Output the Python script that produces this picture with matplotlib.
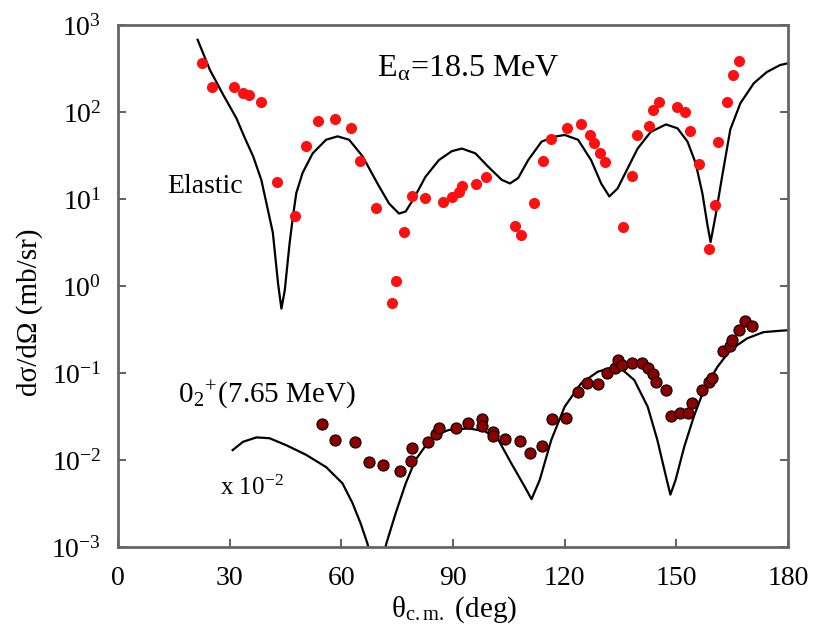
import numpy as np
import matplotlib
matplotlib.use("Agg")
import matplotlib.pyplot as plt

plt.rcParams['font.family'] = ['Liberation Serif', 'DejaVu Serif']
plt.rcParams['mathtext.fontset'] = 'stix'

# elastic scattering, experiment
el_theta = [22.5, 25.2, 31.2, 33.6, 35.2, 38.5, 42.7, 47.6, 50.4, 53.6, 58.4, 62.6,
            65.1, 69.4, 73.7, 74.8, 76.8, 79.0, 82.6, 87.3, 89.8, 91.5, 92.3, 96.1,
            98.8, 106.7, 108.4, 111.8, 114.2, 116.4, 120.7, 124.3, 126.9, 128.0,
            129.4, 130.7, 135.6, 138.1, 139.4, 142.7, 143.6, 145.4, 150.1, 152.2,
            153.8, 156.2, 158.8, 160.4, 161.2, 163.6, 165.2, 166.8]
el_xs = [363, 195, 195, 165, 155, 131, 15.5, 6.4, 41, 79, 83, 65,
         27, 7.8, 0.63, 1.14, 4.2, 10.8, 10.4, 9.2, 10.5, 12.0, 14.0, 14.7,
         18, 4.9, 3.86, 9.1, 27, 49, 65, 72, 54, 44,
         34, 26.4, 4.8, 18.5, 54, 69, 106, 131, 115, 99,
         61, 25, 2.64, 8.6, 45, 131, 266, 385]

# elastic scattering, calculation
el_calc_theta = [21.4, 24.7, 28.3, 31.8, 34.1, 36.3, 38.5, 40.3, 41.6, 43.0, 43.9,
                 44.8, 46.1, 47.0, 47.9, 49.6, 52.3, 55.9, 59.0, 62.1, 65.7, 69.7,
                 72.8, 75.5, 77.3, 79.5, 82.6, 86.2, 89.7, 92.4, 96.0, 99.5, 103.1,
                 105.3, 107.5, 110.2, 113.8, 117.3, 120.0, 123.6, 127.1, 129.8, 132.0,
                 134.2, 136.9, 139.6, 143.1, 147.2, 150.3, 153.0, 155.2, 157.0, 158.3,
                 159.2, 160.5, 162.3, 164.5, 167.2, 170.8, 174.3, 177.9, 180.0]
el_calc_xs = [676, 304, 157, 85, 50, 31, 16.6, 7.4, 4.1, 1.07, 0.55,
              0.89, 3.1, 6.3, 11.7, 20, 33.5, 48, 52.5, 48, 31, 15.1,
              8.9, 6.8, 7.2, 10.2, 18, 28, 35.5, 38, 33.5, 23.4, 16.6,
              15.1, 17.4, 28, 45.7, 52, 54.5, 48, 28, 15.1, 10.7,
              13.2, 22.4, 38, 59, 72, 65, 45.7, 25.7, 11.6, 5.2,
              3.2, 6.3, 18.2, 63, 126, 214, 288, 347, 363]

# 0+2 (7.65 MeV) state, experiment (x 10^-2)
hs_theta = [54.8, 58.4, 63.7, 67.5, 71.2, 75.7, 79.0, 78.8, 83.3, 85.5, 86.2, 90.8,
            94.0, 97.7, 97.7, 100.7, 100.7, 104.0, 108.0, 110.8, 113.8, 116.6, 120.4,
            123.6, 126.1, 128.9, 131.4, 133.4, 134.2, 135.3, 138.0, 140.9, 142.3,
            143.6, 144.5, 147.2, 148.5, 151.0, 153.0, 154.3, 157.0, 158.8, 159.6,
            162.6, 164.3, 165.0, 166.8, 168.5, 170.3]
hs_xs = [0.026, 0.017, 0.0163, 0.0096, 0.0088, 0.0075, 0.0136, 0.0098, 0.016, 0.020,
         0.0236, 0.0236, 0.0269, 0.0293, 0.0246, 0.021, 0.0187, 0.0174, 0.0166, 0.0121,
         0.0145, 0.0293, 0.0308, 0.061, 0.077, 0.074, 0.100, 0.113, 0.141, 0.124,
         0.129, 0.129, 0.113, 0.0975, 0.079, 0.063, 0.032, 0.035, 0.035, 0.045,
         0.064, 0.079, 0.087, 0.18, 0.204, 0.24, 0.31, 0.40, 0.345]

# 0+2 state, calculation
hs_calc_theta = [30.8, 33.6, 37.2, 40.7, 45.2, 50.5, 55.9, 60.3, 63.0, 65.2, 67.0,
                 69.6, 72.1, 74.6, 77.3, 79.9, 84.4, 88.8, 94.2, 98.6, 102.2, 105.7,
                 109.3, 111.1, 113.3, 116.4, 120.0, 124.4, 128.9, 132.5, 135.1, 138.7,
                 142.3, 144.9, 147.2, 148.4, 149.8, 152.1, 154.7, 157.4, 161.0, 164.5,
                 169.0, 173.4, 177.9, 180.0]
hs_calc_xs = [0.0130, 0.0162, 0.0182, 0.0178, 0.0148, 0.0115, 0.0083, 0.0054, 0.0032,
              0.00186, 0.0011, 0.0004, 0.0011, 0.00245, 0.0054, 0.010, 0.0186, 0.0221,
              0.0231, 0.0214, 0.017, 0.0091, 0.0049, 0.00355, 0.0059, 0.017, 0.041,
              0.076, 0.1035, 0.115, 0.113, 0.083, 0.041, 0.017, 0.0065, 0.0040, 0.0059,
              0.0141, 0.0316, 0.064, 0.117, 0.184, 0.25, 0.295, 0.306, 0.31]

ytick_vals = [1e-3, 1e-2, 1e-1, 1e0, 1e1, 1e2, 1e3]
ytick_labels = [r'$\mathregular{10^{-3}}$', r'$\mathregular{10^{-2}}$', r'$\mathregular{10^{-1}}$',
                r'$\mathregular{10^{0}}$', r'$\mathregular{10^{1}}$', r'$\mathregular{10^{2}}$',
                r'$\mathregular{10^{3}}$']
xtick_vals = [0, 30, 60, 90, 120, 150, 180]

fig = plt.figure(figsize=(8.16, 6.38), dpi=100)
ax = fig.add_axes([0.1446, 0.1426, 0.8211, 0.8182])

ax.plot(el_calc_theta, el_calc_xs, color='black', lw=1.6, zorder=2)
ax.plot(hs_calc_theta, hs_calc_xs, color='black', lw=1.6, zorder=2)
ax.plot(el_theta, el_xs, 'o', color='#ff1010', ms=8, mew=0, zorder=3)
ax.plot(hs_theta, hs_xs, 'o', color='#8e0000', mec='black', mew=0.8, ms=8, zorder=3)

ax.set_yscale('log')
ax.set_xlim(0, 180)
ax.set_ylim(1e-3, 1e3)
ax.set_xticks(xtick_vals)
ax.set_yticks(ytick_vals)
ax.set_yticklabels(ytick_labels)
ax.yaxis.set_minor_locator(matplotlib.ticker.NullLocator())
ax.tick_params(axis='both', direction='in', length=6, width=1.3, labelsize=20,
               color='#555555')
ax.tick_params(axis='y', right=True, pad=12)
ax.tick_params(axis='x', pad=14)
for s in ax.spines.values():
    s.set_color('#666666')
    s.set_linewidth(2)

ax.set_ylabel('dσ/dΩ (mb/sr)', fontsize=21)
ax.yaxis.set_label_coords(-0.112, 0.45)
ax.set_xlabel(r'θ$_{\mathregular{c.m.}}$ (deg)', fontsize=21)
ax.xaxis.set_label_coords(0.502, -0.09)

ax.text(0.387, 0.900, r'E$_{\mathregular{α}}$=18.5 MeV', transform=ax.transAxes,
        fontsize=23, va='baseline')
ax.text(0.073, 0.678, 'Elastic', transform=ax.transAxes, fontsize=20, va='baseline')
ax.text(0.0896, 0.276, r'0$_{\mathregular{2}}$$^{\mathregular{+}}$(7.65 MeV)',
        transform=ax.transAxes, fontsize=21, va='baseline')
ax.text(0.152, 0.0996, r'x 10$^{\mathregular{-2}}$', transform=ax.transAxes,
        fontsize=18, va='baseline')

fig.savefig('out.png', dpi=100)
